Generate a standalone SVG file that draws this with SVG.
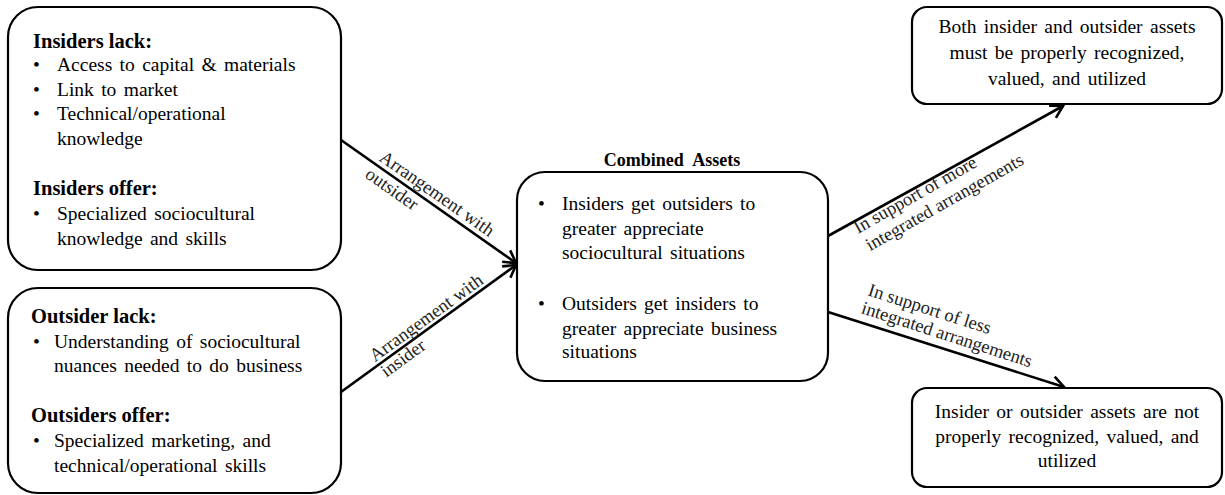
<svg xmlns="http://www.w3.org/2000/svg" width="1225" height="495" viewBox="0 0 1225 495">
  <style>
    .box { fill: #ffffff; stroke: #000000; stroke-width: 2.2; }
    .t { font-family: "Liberation Serif", "Times New Roman", serif; font-size: 19.5px; fill: #000000; word-spacing: 2.5px; }
    .h { font-family: "Liberation Serif", "Times New Roman", serif; font-size: 20.5px; font-weight: bold; fill: #000000; }
    .title { font-family: "Liberation Serif", "Times New Roman", serif; font-size: 18px; font-weight: bold; fill: #000000; word-spacing: 5px; }
    .c { text-anchor: middle; }
    .lbl { font-family: "Liberation Serif", "Times New Roman", serif; font-size: 18.5px; fill: #222222; }
    .edge { stroke: #000000; stroke-width: 2.6; fill: none; marker-end: url(#chev); }
  </style>
  <defs>
    <marker id="chev" markerUnits="userSpaceOnUse" markerWidth="18" markerHeight="18" viewBox="0 0 18 18" refX="15" refY="9" orient="auto">
      <path d="M3,2 L15,9 L3,16" fill="none" stroke="#000000" stroke-width="2.6"/>
    </marker>
  </defs>

  <!-- connectors and their labels -->
  <g id="connectors">
    <line class="edge" x1="341" y1="140" x2="516" y2="263"/>
    <line class="edge" x1="341" y1="392" x2="516" y2="265"/>
    <line class="edge" x1="828" y1="236" x2="1063" y2="106"/>
    <line class="edge" x1="828" y1="312" x2="1064" y2="387"/>

    <g transform="translate(341,140) rotate(34.9)">
      <text class="lbl" x="42" y="-5">Arrangement with</text>
      <text class="lbl" x="40" y="17">outsider</text>
    </g>
    <g transform="translate(341,392) rotate(-36)">
      <text class="lbl" x="45" y="-4">Arrangement with</text>
      <text class="lbl" x="45" y="15">insider</text>
    </g>
    <g transform="translate(828,236) rotate(-29.5)">
      <text class="lbl" x="27" y="13">In support of more</text>
      <text class="lbl" x="29" y="34">integrated arrangements</text>
    </g>
    <g transform="translate(828,312) rotate(17.8)">
      <text class="lbl" x="32" y="-28">In support of less</text>
      <text class="lbl" x="31" y="-9">integrated arrangements</text>
    </g>
  </g>

  <!-- insider assets -->
  <g id="insiders">
    <rect class="box" x="8" y="7" width="333" height="263" rx="30"/>
    <text class="h" x="33" y="48">Insiders lack:</text>
    <text class="t" x="33" y="71">•</text>
    <text class="t" x="57" y="71">Access to capital &amp; materials</text>
    <text class="t" x="33" y="96">•</text>
    <text class="t" x="57" y="96">Link to market</text>
    <text class="t" x="33" y="120">•</text>
    <text class="t" x="57" y="120">Technical/operational</text>
    <text class="t" x="57" y="145">knowledge</text>
    <text class="h" x="33" y="195">Insiders offer:</text>
    <text class="t" x="33" y="220">•</text>
    <text class="t" x="57" y="220">Specialized  sociocultural</text>
    <text class="t" x="57" y="245">knowledge and skills</text>
  </g>

  <!-- outsider assets -->
  <g id="outsiders">
    <rect class="box" x="8" y="288" width="333" height="205" rx="30"/>
    <text class="h" x="31" y="323">Outsider lack:</text>
    <text class="t" x="33" y="348">•</text>
    <text class="t" x="54" y="348">Understanding of sociocultural</text>
    <text class="t" x="54" y="372">nuances needed to do business</text>
    <text class="h" x="31" y="422">Outsiders offer:</text>
    <text class="t" x="33" y="447">•</text>
    <text class="t" x="54" y="447">Specialized marketing, and</text>
    <text class="t" x="54" y="472">technical/operational skills</text>
  </g>

  <!-- combined assets -->
  <g id="combined">
    <text class="title c" x="672" y="166">Combined Assets</text>
    <rect class="box" x="517" y="172" width="311" height="209" rx="28"/>
    <text class="t" x="538" y="210">•</text>
    <text class="t" x="562" y="210">Insiders get outsiders to</text>
    <text class="t" x="562" y="235">greater appreciate</text>
    <text class="t" x="562" y="259">sociocultural situations</text>
    <text class="t" x="538" y="310">•</text>
    <text class="t" x="562" y="310">Outsiders get insiders to</text>
    <text class="t" x="562" y="335">greater appreciate business</text>
    <text class="t" x="562" y="358">situations</text>
  </g>

  <!-- integrated outcome -->
  <g id="integrated">
    <rect class="box" x="912" y="7" width="310" height="97" rx="15"/>
    <text class="t c" x="1067" y="33">Both insider and outsider assets</text>
    <text class="t c" x="1067" y="59">must be properly recognized,</text>
    <text class="t c" x="1067" y="85">valued, and utilized</text>
  </g>

  <!-- less integrated outcome -->
  <g id="less-integrated">
    <rect class="box" x="912" y="388" width="310" height="99" rx="15"/>
    <text class="t c" x="1067" y="418">Insider or outsider assets are not</text>
    <text class="t c" x="1067" y="443">properly recognized, valued, and</text>
    <text class="t c" x="1067" y="467">utilized</text>
  </g>
</svg>
